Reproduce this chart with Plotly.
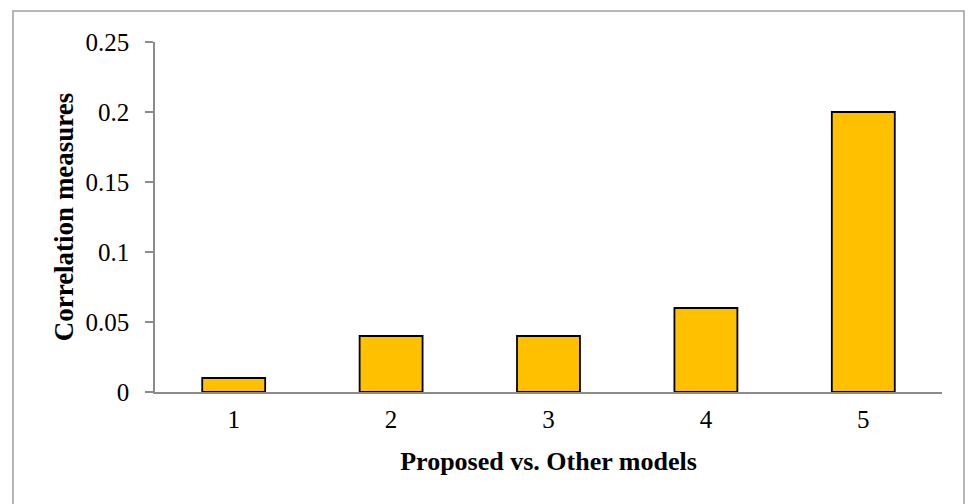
import plotly.graph_objects as go

# Comparison index and correlation measure per model pair
categories = ["1", "2", "3", "4", "5"]
correlation = [0.01, 0.04, 0.04, 0.06, 0.20]
y_ticks = [0, 0.05, 0.1, 0.15, 0.2, 0.25]
y_tick_text = ["0", "0.05", "0.1", "0.15", "0.2", "0.25"]

FONT = "Liberation Serif, Times New Roman, serif"
AXIS_GREY = "#8c8c8c"

fig = go.Figure(
    go.Bar(
        x=categories,
        y=correlation,
        width=0.4,
        marker=dict(color="#FFC000", line=dict(color="black", width=1.8)),
    )
)

# plot area spans 155..942 px horizontally and 42..392 px vertically
L, R, T, B = 155, 26, 42, 112
W, H = 968, 504
pw, ph = W - L - R, H - T - B

def px_x(px):
    return (px - L) / pw

def px_y(py):
    return (H - B - py) / ph

fig.update_layout(
    width=W,
    height=H,
    margin=dict(l=L, r=R, t=T, b=B),
    paper_bgcolor="white",
    plot_bgcolor="white",
    showlegend=False,
    font=dict(family=FONT, size=24, color="black"),
    xaxis=dict(
        type="category",
        showline=True,
        linecolor=AXIS_GREY,
        linewidth=1.5,
        ticks="",
        showgrid=False,
        zeroline=False,
        tickfont=dict(family=FONT, size=25),
        ticklabelstandoff=4,
        title=dict(
            text="<b>Proposed vs. Other models</b>",
            font=dict(family=FONT, size=26),
            standoff=20,
        ),
    ),
    yaxis=dict(
        range=[0, 0.25],
        tickvals=y_ticks,
        ticktext=y_tick_text,
        showline=True,
        linecolor=AXIS_GREY,
        linewidth=1.5,
        ticks="outside",
        ticklen=8,
        tickcolor=AXIS_GREY,
        tickwidth=1.5,
        showgrid=False,
        zeroline=False,
        tickfont=dict(family=FONT, size=25),
        ticklabelstandoff=11,
        title=dict(
            text="<b>Correlation measures</b>",
            font=dict(family=FONT, size=27),
            standoff=4,
        ),
    ),
    shapes=[
        dict(
            type="rect",
            xref="paper",
            yref="paper",
            x0=px_x(13),
            x1=px_x(964),
            y0=px_y(520),
            y1=px_y(11),
            line=dict(color="#a0a0a0", width=1.5),
            fillcolor="rgba(0,0,0,0)",
            layer="below",
        )
    ],
)

fig.write_html("out.html")
